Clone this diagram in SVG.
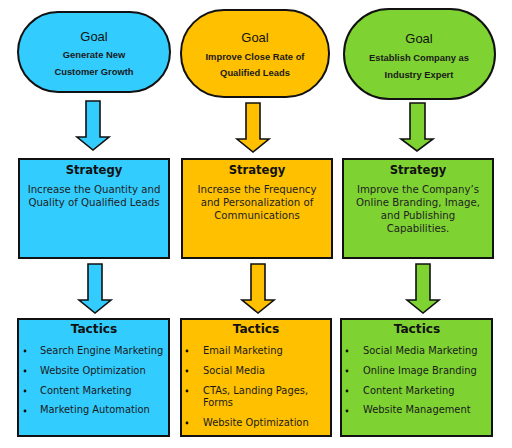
<svg xmlns="http://www.w3.org/2000/svg" width="512" height="448" viewBox="0 0 512 448">
<style>
.blue{fill:#33CCFF}
.orange{fill:#FFC000}
.green{fill:#7ED332}
.box{stroke:#111;stroke-width:2}
.arrow{stroke:#111;stroke-width:1.6;stroke-linejoin:miter}
.gt{font-family:"Liberation Sans",Arial,sans-serif;font-size:13px;fill:#111;text-anchor:middle}
.gs{font-family:"Liberation Sans",Arial,sans-serif;font-size:9.4px;font-weight:bold;fill:#1a1a1a;text-anchor:middle}
.st{font-family:"DejaVu Sans",Verdana,sans-serif;font-size:11.6px;font-weight:bold;fill:#111;text-anchor:middle}
.tt{font-family:"DejaVu Sans",Verdana,sans-serif;font-size:12.2px;font-weight:bold;fill:#111;text-anchor:middle}
.sb{font-family:"DejaVu Sans",Verdana,sans-serif;font-size:10.2px;fill:#222;text-anchor:middle}
.ti{font-family:"DejaVu Sans",Verdana,sans-serif;font-size:9.9px;fill:#1a1a1a}
.dot{fill:#111}
</style>
<rect width="512" height="448" fill="#fff"/>

<g id="connectors">
<polygon class="arrow blue" points="86,101 100,101 100,137 109,137 93,150 77,137 86,137"/>
<polygon class="arrow orange" points="246,103 260,103 260,139 269,139 253,152 237,139 246,139"/>
<polygon class="arrow green" points="410,103 425,103 425,139 433,139 417,151 401,139 410,139"/>
<polygon class="arrow blue" points="88,264 102,264 102,300 111,300 95,313 79,300 88,300"/>
<polygon class="arrow orange" points="251,264 265,264 265,300 274,300 258,313 242,300 251,300"/>
<polygon class="arrow green" points="416,264 430,264 430,300 439,300 423,313 407,300 416,300"/>
</g>

<g id="goal1">
<rect class="box blue" x="18" y="12" width="152" height="80" rx="40" ry="40"/>
<text class="gt" x="94" y="41">Goal</text>
<text class="gs" x="94" y="58">Generate New</text>
<text class="gs" x="94" y="75">Customer Growth</text>
</g>
<g id="goal2">
<rect class="box orange" x="181" y="10" width="148" height="87" rx="43" ry="43"/>
<text class="gt" x="255" y="42">Goal</text>
<text class="gs" x="255" y="60">Improve Close Rate of</text>
<text class="gs" x="255" y="76">Qualified Leads</text>
</g>
<g id="goal3">
<rect class="box green" x="344" y="9" width="151" height="90" rx="45" ry="45"/>
<text class="gt" x="419" y="43">Goal</text>
<text class="gs" x="419" y="61">Establish Company as</text>
<text class="gs" x="419" y="78">Industry Expert</text>
</g>

<g id="strategy1">
<rect class="box blue" x="19" y="159" width="150" height="99"/>
<text class="st" x="94" y="174">Strategy</text>
<text class="sb" x="94" y="193">Increase the Quantity and</text>
<text class="sb" x="94" y="206">Quality of Qualified Leads</text>
</g>
<g id="strategy2">
<rect class="box orange" x="182" y="159" width="150" height="99"/>
<text class="st" x="257" y="174">Strategy</text>
<text class="sb" x="257" y="193">Increase the Frequency</text>
<text class="sb" x="257" y="206">and Personalization of</text>
<text class="sb" x="257" y="219">Communications</text>
</g>
<g id="strategy3">
<rect class="box green" x="343" y="159" width="150" height="99"/>
<text class="st" x="418" y="174">Strategy</text>
<text class="sb" x="418" y="193">Improve the Company’s</text>
<text class="sb" x="418" y="206">Online Branding, Image,</text>
<text class="sb" x="418" y="219">and Publishing</text>
<text class="sb" x="418" y="232">Capabilities.</text>
</g>

<g id="tactics1">
<rect class="box blue" x="18" y="319" width="151" height="117"/>
<text class="tt" x="94" y="333">Tactics</text>
<circle class="dot" cx="25" cy="351" r="1.4"/>
<circle class="dot" cx="25" cy="371" r="1.4"/>
<circle class="dot" cx="25" cy="391" r="1.4"/>
<circle class="dot" cx="25" cy="411" r="1.4"/>
<text class="ti" x="40" y="354">Search Engine Marketing</text>
<text class="ti" x="40" y="374">Website Optimization</text>
<text class="ti" x="40" y="394">Content Marketing</text>
<text class="ti" x="40" y="413">Marketing Automation</text>
</g>
<g id="tactics2">
<rect class="box orange" x="181" y="319" width="150" height="117"/>
<text class="tt" x="256" y="333">Tactics</text>
<circle class="dot" cx="187" cy="351" r="1.4"/>
<circle class="dot" cx="187" cy="371" r="1.4"/>
<circle class="dot" cx="187" cy="391" r="1.4"/>
<circle class="dot" cx="187" cy="423" r="1.4"/>
<text class="ti" x="203" y="354">Email Marketing</text>
<text class="ti" x="203" y="374">Social Media</text>
<text class="ti" x="203" y="394">CTAs, Landing Pages,</text>
<text class="ti" x="203" y="406">Forms</text>
<text class="ti" x="203" y="426">Website Optimization</text>
</g>
<g id="tactics3">
<rect class="box green" x="341" y="319" width="151" height="117"/>
<text class="tt" x="417" y="333">Tactics</text>
<circle class="dot" cx="347" cy="351" r="1.4"/>
<circle class="dot" cx="347" cy="371" r="1.4"/>
<circle class="dot" cx="347" cy="391" r="1.4"/>
<circle class="dot" cx="347" cy="411" r="1.4"/>
<text class="ti" x="363" y="354">Social Media Marketing</text>
<text class="ti" x="363" y="374">Online Image Branding</text>
<text class="ti" x="363" y="394">Content Marketing</text>
<text class="ti" x="363" y="413">Website Management</text>
</g>
</svg>
